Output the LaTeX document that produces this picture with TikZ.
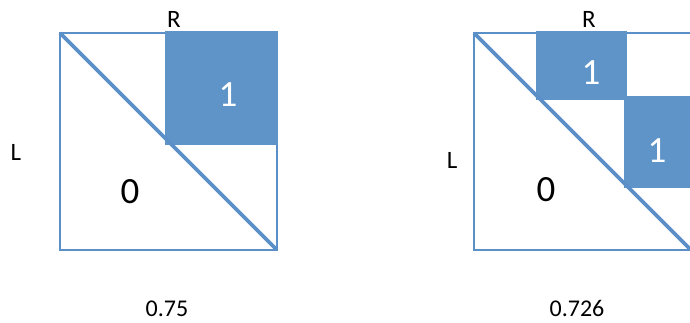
\documentclass[tikz,border=0pt]{standalone}
\usepackage{fontspec}
\setmainfont{Carlito}
\definecolor{lineblue}{HTML}{5B8FC8}
\definecolor{boxblue}{HTML}{5F94C8}
\begin{document}
\begin{tikzpicture}[x=1pt,y=-1pt,
  frame/.style={draw=lineblue,line width=2.8pt},
  diag/.style={draw=lineblue,line width=3.8pt},
  cell/.style={fill=boxblue},
  lab/.style={font=\fontsize{25}{28}\selectfont,text=black},
  zero/.style={font=\fontsize{37}{40}\selectfont,text=black},
  one/.style={font=\fontsize{37}{40}\selectfont,text=white},
  val/.style={font=\fontsize{24}{26}\selectfont,text=black,anchor=base,inner sep=0pt}]
\useasboundingbox (0,0) rectangle (690,322);
\clip (0,0) rectangle (690,322);
% left panel
\draw[frame] (60,33) rectangle (277,250);
\fill[cell] (165,31) rectangle (278.4,145);
\draw[diag] (60,33) -- (276,249);
\node[lab] (R1) at (174,19) {R};
\node[lab] (L1) at (16,152) {L};
\node[zero] (z1) at (130,192) {0};
\node[one] (o1) at (228,95) {1};
\node[val] (v1) at (167,316) {0.75};
% right panel
\draw[frame] (474,33) rectangle (691,250);
\fill[cell] (536,31) rectangle (627,100);
\fill[cell] (624,96) rectangle (700,188);
\draw[diag] (474,33) -- (690,249);
\node[lab] (R2) at (589,19) {R};
\node[lab] (L2) at (452,160) {L};
\node[zero] (z2) at (546,190) {0};
\node[one] (o2) at (591,73) {1};
\node[one] (o3) at (657,151) {1};
\node[val] (v2) at (577,316) {0.726};
\end{tikzpicture}
\end{document}
